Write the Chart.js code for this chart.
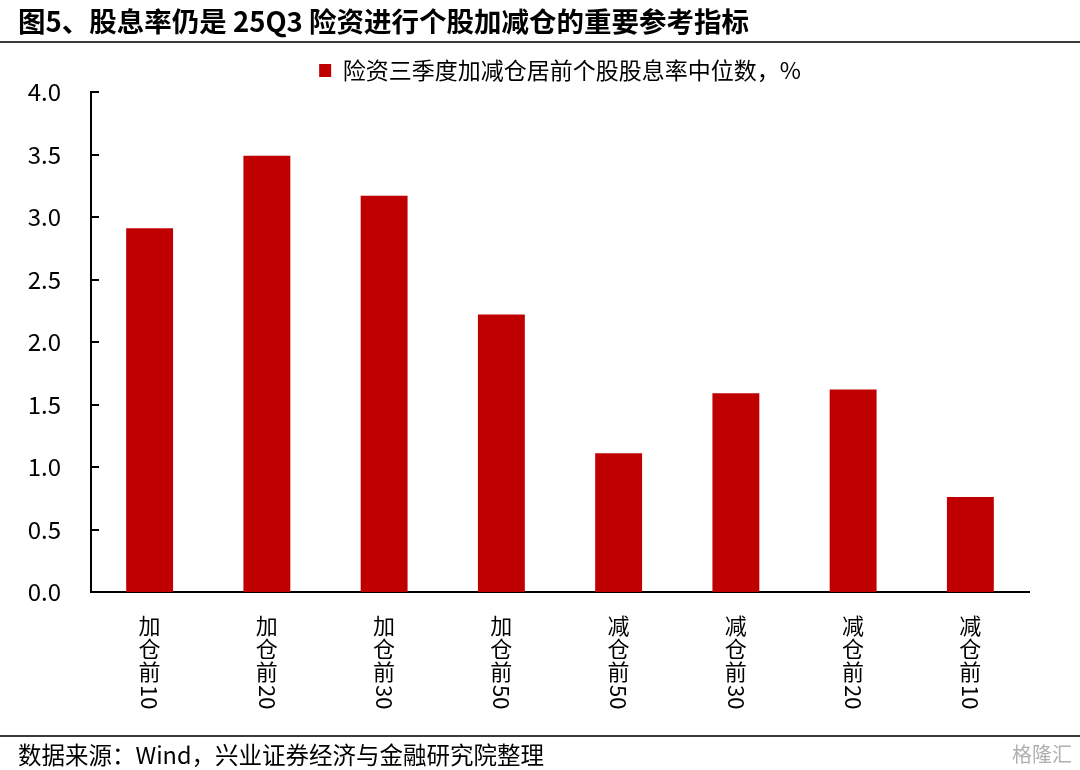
<!DOCTYPE html>
<html>
<head>
<meta charset="utf-8">
<script src="https://cdn.jsdelivr.net/npm/chart.js@4/dist/chart.umd.min.js"></script>
<style>
    body { margin: 0; background: #fff; }
    #wrap { position: relative; width: 1080px; height: 770px; font-family: "Noto Sans CJK SC", sans-serif; }
    #title {
        position: absolute; left: 0; top: 0; width: 1080px; height: 43px;
        border-bottom: 2px solid #3a3a3a;
        font-size: 27.5px; font-weight: bold; line-height: 40px;
        padding-left: 18px; box-sizing: border-box; color: #000;
    }
    #footer {
        position: absolute; left: 0; top: 735px; width: 1080px; height: 35px;
        border-top: 2px solid #3a3a3a;
        font-size: 23.5px; line-height: 34px;
        padding-left: 18px; box-sizing: border-box; color: #000;
    }
    #logo { position: absolute; right: 8px; top: 0; color: #b0b0b0; font-size: 20px; }
    canvas { position: absolute; left: 0; top: 0; }
</style>
</head>
<body>
<div id="wrap">
    <canvas id="myChart" width="1080" height="770"></canvas>
    <div id="title">图5、股息率仍是 25Q3 险资进行个股加减仓的重要参考指标</div>
    <div id="footer">数据来源：Wind，兴业证券经济与金融研究院整理<span id="logo">格隆汇</span></div>
</div>
<script>
    // chart data
    const categories = ["加仓前10", "加仓前20", "加仓前30", "加仓前50", "减仓前50", "减仓前30", "减仓前20", "减仓前10"];
    const dividendYield = [2.91, 3.49, 3.17, 2.22, 1.11, 1.59, 1.62, 0.76];
    const seriesName = "险资三季度加减仓居前个股股息率中位数，%";
    const yTicks = [0, 0.5, 1, 1.5, 2, 2.5, 3, 3.5, 4];

    const fontFamily = '"Noto Sans CJK SC", sans-serif';
    Chart.defaults.font.family = fontFamily;
    Chart.defaults.color = "#000";

    // inward tick marks on the y axis
    const innerTicks = {
        id: "innerTicks",
        afterDatasetsDraw(chart) {
            let ys = chart.scales.y;
            let ctx = chart.ctx;
            ctx.save();
            ctx.strokeStyle = "#000";
            ctx.lineWidth = 2;
            ys.ticks.forEach(function (t) {
                let y = Math.round(ys.getPixelForValue(t.value));
                ctx.beginPath();
                ctx.moveTo(ys.right, y);
                ctx.lineTo(ys.right + 8, y);
                ctx.stroke();
            });
            ctx.restore();
        },
    };

    // centre the legend over the plot area instead of the whole canvas
    const legendShift = {
        id: "legendShift",
        afterLayout(chart) {
            let area = chart.chartArea;
            let shift = (area.left + area.right) / 2 - (chart.legend.left + chart.legend.right) / 2;
            chart.legend.left += shift;
            chart.legend.right += shift;
        },
    };

    // vertical category labels, digits turned sideways
    const verticalLabels = {
        id: "verticalLabels",
        afterDraw(chart) {
            let xs = chart.scales.x;
            let ctx = chart.ctx;
            let size = 22;
            ctx.save();
            ctx.fillStyle = "#000";
            ctx.font = size + "px " + fontFamily;
            categories.forEach(function (label, i) {
                let x = xs.getPixelForTick(i);
                let y = xs.top + 23;
                let parts = label.match(/\d+|./g);
                parts.forEach(function (p) {
                    if (/\d/.test(p)) {
                        let w = ctx.measureText(p).width;
                        ctx.save();
                        ctx.translate(x, y + 1);
                        ctx.rotate(Math.PI / 2);
                        ctx.textAlign = "left";
                        ctx.textBaseline = "middle";
                        ctx.fillText(p, 0, 0);
                        ctx.restore();
                        y += w;
                    } else {
                        ctx.textAlign = "center";
                        ctx.textBaseline = "top";
                        ctx.fillText(p, x, y);
                        y += size + 1;
                    }
                });
            });
            ctx.restore();
        },
    };

    const ctx = document.getElementById("myChart");
    const myChart = new Chart(ctx, {
        type: "bar",
        data: {
            labels: categories,
            datasets: [
                {
                    label: seriesName,
                    data: dividendYield,
                    backgroundColor: "#C00000",
                    borderWidth: 0,
                    barPercentage: 0.4,
                    categoryPercentage: 1,
                },
            ],
        },
        options: {
            responsive: false,
            animation: false,
            layout: {
                padding: { left: 0, right: 51, top: 47, bottom: 0 },
            },
            plugins: {
                legend: {
                    display: true,
                    labels: {
                        boxWidth: 12,
                        boxHeight: 13,
                        padding: 12,
                        font: { size: 23 },
                        color: "#000",
                    },
                },
                tooltip: { enabled: false },
            },
            scales: {
                x: {
                    grid: { display: false },
                    border: { display: true, color: "#000", width: 2 },
                    ticks: { display: false },
                    afterFit(scale) {
                        scale.height = 178;
                    },
                },
                y: {
                    min: 0,
                    max: 4,
                    afterBuildTicks(scale) {
                        scale.ticks = yTicks.map((v) => ({ value: v }));
                    },
                    grid: { display: false, drawTicks: false },
                    border: { display: true, color: "#000", width: 2 },
                    ticks: {
                        padding: 30,
                        font: { size: 24 },
                        color: "#000",
                        callback: (v) => v.toFixed(1),
                    },
                    afterFit(scale) {
                        scale.width = 91;
                    },
                },
            },
        },
        plugins: [innerTicks, legendShift, verticalLabels],
    });
</script>
</body>
</html>
